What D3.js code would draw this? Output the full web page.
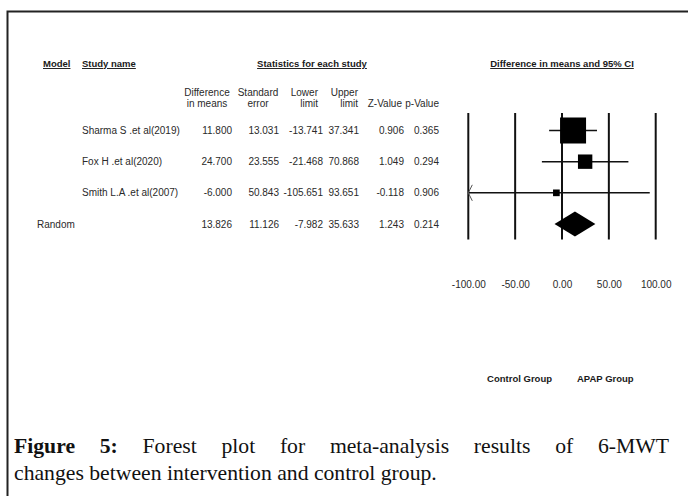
<!DOCTYPE html>
<html>
<head>
<meta charset="utf-8">
<script src="https://cdn.jsdelivr.net/npm/d3@7"></script>
<style>
  body { margin: 0; background: #fff; }
  svg { display: block; }
  .tbl { font-family: Arial, "Liberation Sans", sans-serif; font-size: 10px; fill: #2a2a2a; }
  .hdr { font-family: Arial, "Liberation Sans", sans-serif; font-size: 9.5px; font-weight: bold; fill: #1a1a1a; }
  .cap { font-family: "Liberation Serif", "DejaVu Serif", serif; fill: #111; }
</style>
</head>
<body>
<div id="container"></div>
<script>
// Study data
const studies = ["Sharma S .et al(2019)", "Fox H .et al(2020)", "Smith L.A .et al(2007)"];
const diffMeans = [11.800, 24.700, -6.000];
const stdErr = [13.031, 23.555, 50.843];
const lowerLimit = [-13.741, -21.468, -105.651];
const upperLimit = [37.341, 70.868, 93.651];
const zValue = [0.906, 1.049, -0.118];
const pValue = [0.365, 0.294, 0.906];
const weights = [72.9, 22.3, 4.8]; // relative weight (%), sets box size

// Pooled (random effects) row
const pooledLabel = "Random";
const pooled = { diff: 13.826, se: 11.126, lower: -7.982, upper: 35.633, z: 1.243, p: 0.214 };

const ticks = [-100, -50, 0, 50, 100];
const favours = ["Control Group", "APAP Group"];
const captionLine1 = "Forest plot for meta-analysis results of 6-MWT";
const captionLine2 = "changes between intervention and control group.";

const W = 688, H = 496;
const svg = d3.select("#container").append("svg")
    .attr("width", W).attr("height", H);

svg.append("rect").attr("width", W).attr("height", H).attr("fill", "#fff");

// frame (top and left edges only are visible)
svg.append("path")
    .attr("d", `M7.5,${H} V11.5 H${W}`)
    .attr("fill", "none").attr("stroke", "#222").attr("stroke-width", 2);

// rows
const rowNames = [...studies, pooledLabel];
const y = d3.scalePoint().domain(rowNames).range([130.5, 224]);

const rows = studies.map((s, i) => ({
    name: s, diff: diffMeans[i], se: stdErr[i], lower: lowerLimit[i],
    upper: upperLimit[i], z: zValue[i], p: pValue[i], w: weights[i]
}));
const allRows = [...rows, { name: pooledLabel, ...pooled, pooled: true }];

// top headers
const headers = [
    { t: "Model", x: 43, anchor: "start" },
    { t: "Study name", x: 82, anchor: "start" },
    { t: "Statistics for each study", x: 312, anchor: "middle" },
    { t: "Difference in means and 95% CI", x: 562, anchor: "middle" }
];
svg.selectAll("text.top").data(headers).join("text")
    .attr("class", "hdr top")
    .attr("x", d => d.x).attr("y", 67)
    .attr("text-anchor", d => d.anchor)
    .style("text-decoration", "underline")
    .text(d => d.t);

// plain hyphen for negatives, as in the source table
const locale = d3.formatLocale({ decimal: ".", thousands: ",", grouping: [3], currency: ["", ""], minus: "-" });
const fmt = locale.format(".3f");

const cols = [
    { key: "diff", right: 232, h1: "Difference", h2: "in means", hx: 207, anchor: "middle" },
    { key: "se", right: 279, h1: "Standard", h2: "error", hx: 258, anchor: "middle" },
    { key: "lower", right: 323, h1: "Lower", h2: "limit", hx: 318, anchor: "end" },
    { key: "upper", right: 359, h1: "Upper", h2: "limit", hx: 358, anchor: "end" },
    { key: "z", right: 404, h1: "", h2: "Z-Value", hx: 402, anchor: "end" },
    { key: "p", right: 439, h1: "", h2: "p-Value", hx: 439, anchor: "end" }
];

const colHead = svg.append("g").attr("class", "tbl");
cols.forEach(c => {
    colHead.append("text").attr("x", c.hx).attr("y", 96).attr("text-anchor", c.anchor).text(c.h1);
    colHead.append("text").attr("x", c.hx).attr("y", 107).attr("text-anchor", c.anchor).text(c.h2);
});

const rowG = svg.append("g").attr("class", "tbl");
allRows.forEach(r => {
    rowG.append("text")
        .attr("x", r.pooled ? 37 : 82).attr("y", y(r.name) + 3.5)
        .text(r.name);
    cols.forEach(c => {
        rowG.append("text")
            .attr("x", c.right).attr("y", y(r.name) + 3.5)
            .attr("text-anchor", "end")
            .text(fmt(r[c.key]));
    });
});

// forest plot
const x = d3.scaleLinear().domain([-100, 100]).range([468.3, 655.7]);
const plot = svg.append("g");

plot.selectAll("line.grid").data(ticks).join("line")
    .attr("x1", d => x(d)).attr("x2", d => x(d))
    .attr("y1", 113).attr("y2", 239.5)
    .attr("stroke", "#111").attr("stroke-width", 2);

const xAxis = d3.axisBottom(x).tickValues(ticks).tickFormat(locale.format(".2f")).tickSize(0);
const axG = plot.append("g").attr("transform", "translate(0,278)").call(xAxis);
axG.select(".domain").remove();
axG.selectAll("text")
    .attr("font-family", "Arial, 'Liberation Sans', sans-serif")
    .attr("font-size", 10).attr("fill", "#2a2a2a");

// confidence intervals (clipped at the axis limits, arrow when truncated)
const [xmin, xmax] = x.domain();
rows.forEach(r => {
    const lo = Math.max(r.lower, xmin), hi = Math.min(r.upper, xmax);
    plot.append("line")
        .attr("x1", x(lo)).attr("x2", x(hi))
        .attr("y1", y(r.name)).attr("y2", y(r.name))
        .attr("stroke", "#111").attr("stroke-width", 1.5);
    if (r.lower < xmin) {
        const ax = x(xmin), ay = y(r.name);
        plot.append("path")
            .attr("d", `M${ax + 4},${ay - 8} L${ax},${ay} L${ax + 4},${ay + 8}`)
            .attr("fill", "none").attr("stroke", "#555").attr("stroke-width", 1);
    }
});

// boxes sized by weight (area proportional)
const box = d3.scaleSqrt().domain([0, d3.max(weights)]).range([0, 26]);
plot.selectAll("rect.box").data(rows).join("rect")
    .attr("x", d => x(d.diff) - box(d.w) / 2)
    .attr("y", d => y(d.name) - box(d.w) / 2)
    .attr("width", d => box(d.w)).attr("height", d => box(d.w))
    .attr("fill", "#000");

// pooled diamond
const py = y(pooledLabel);
plot.append("path")
    .attr("d", `M${x(pooled.lower)},${py} L${x(pooled.diff)},${py - 12.5} L${x(pooled.upper)},${py} L${x(pooled.diff)},${py + 12.5} Z`)
    .attr("fill", "#000");

// favours labels
svg.selectAll("text.fav").data(favours).join("text")
    .attr("class", "hdr fav")
    .attr("x", (d, i) => i === 0 ? 552 : 577)
    .attr("y", 382)
    .attr("text-anchor", (d, i) => i === 0 ? "end" : "start")
    .text(d => d);

// caption: line 2 sets the font size, line 1 is justified to the full width
const capLeft = 14, capRight = 669, line2Width = 423;
const line2 = svg.append("text").attr("class", "cap").attr("font-size", 20)
    .attr("x", capLeft).attr("y", 480)
    .text(captionLine2);
const capFont = 20 * line2Width / line2.node().getComputedTextLength();
line2.attr("font-size", capFont);

const line1 = svg.append("g").attr("class", "cap").attr("font-size", capFont);
const words = [{ t: "Figure", b: true }, { t: "5:", b: true },
    ...captionLine1.split(" ").map(t => ({ t, b: false }))];
const nodes = words.map(w => line1.append("text")
    .attr("y", 453).attr("font-weight", w.b ? "bold" : "normal").text(w.t));
const widths = nodes.map(n => n.node().getComputedTextLength());
const gap = (capRight - capLeft - d3.sum(widths)) / (words.length - 1);
let cx = capLeft;
nodes.forEach((n, i) => { n.attr("x", cx); cx += widths[i] + gap; });
</script>
</body>
</html>
